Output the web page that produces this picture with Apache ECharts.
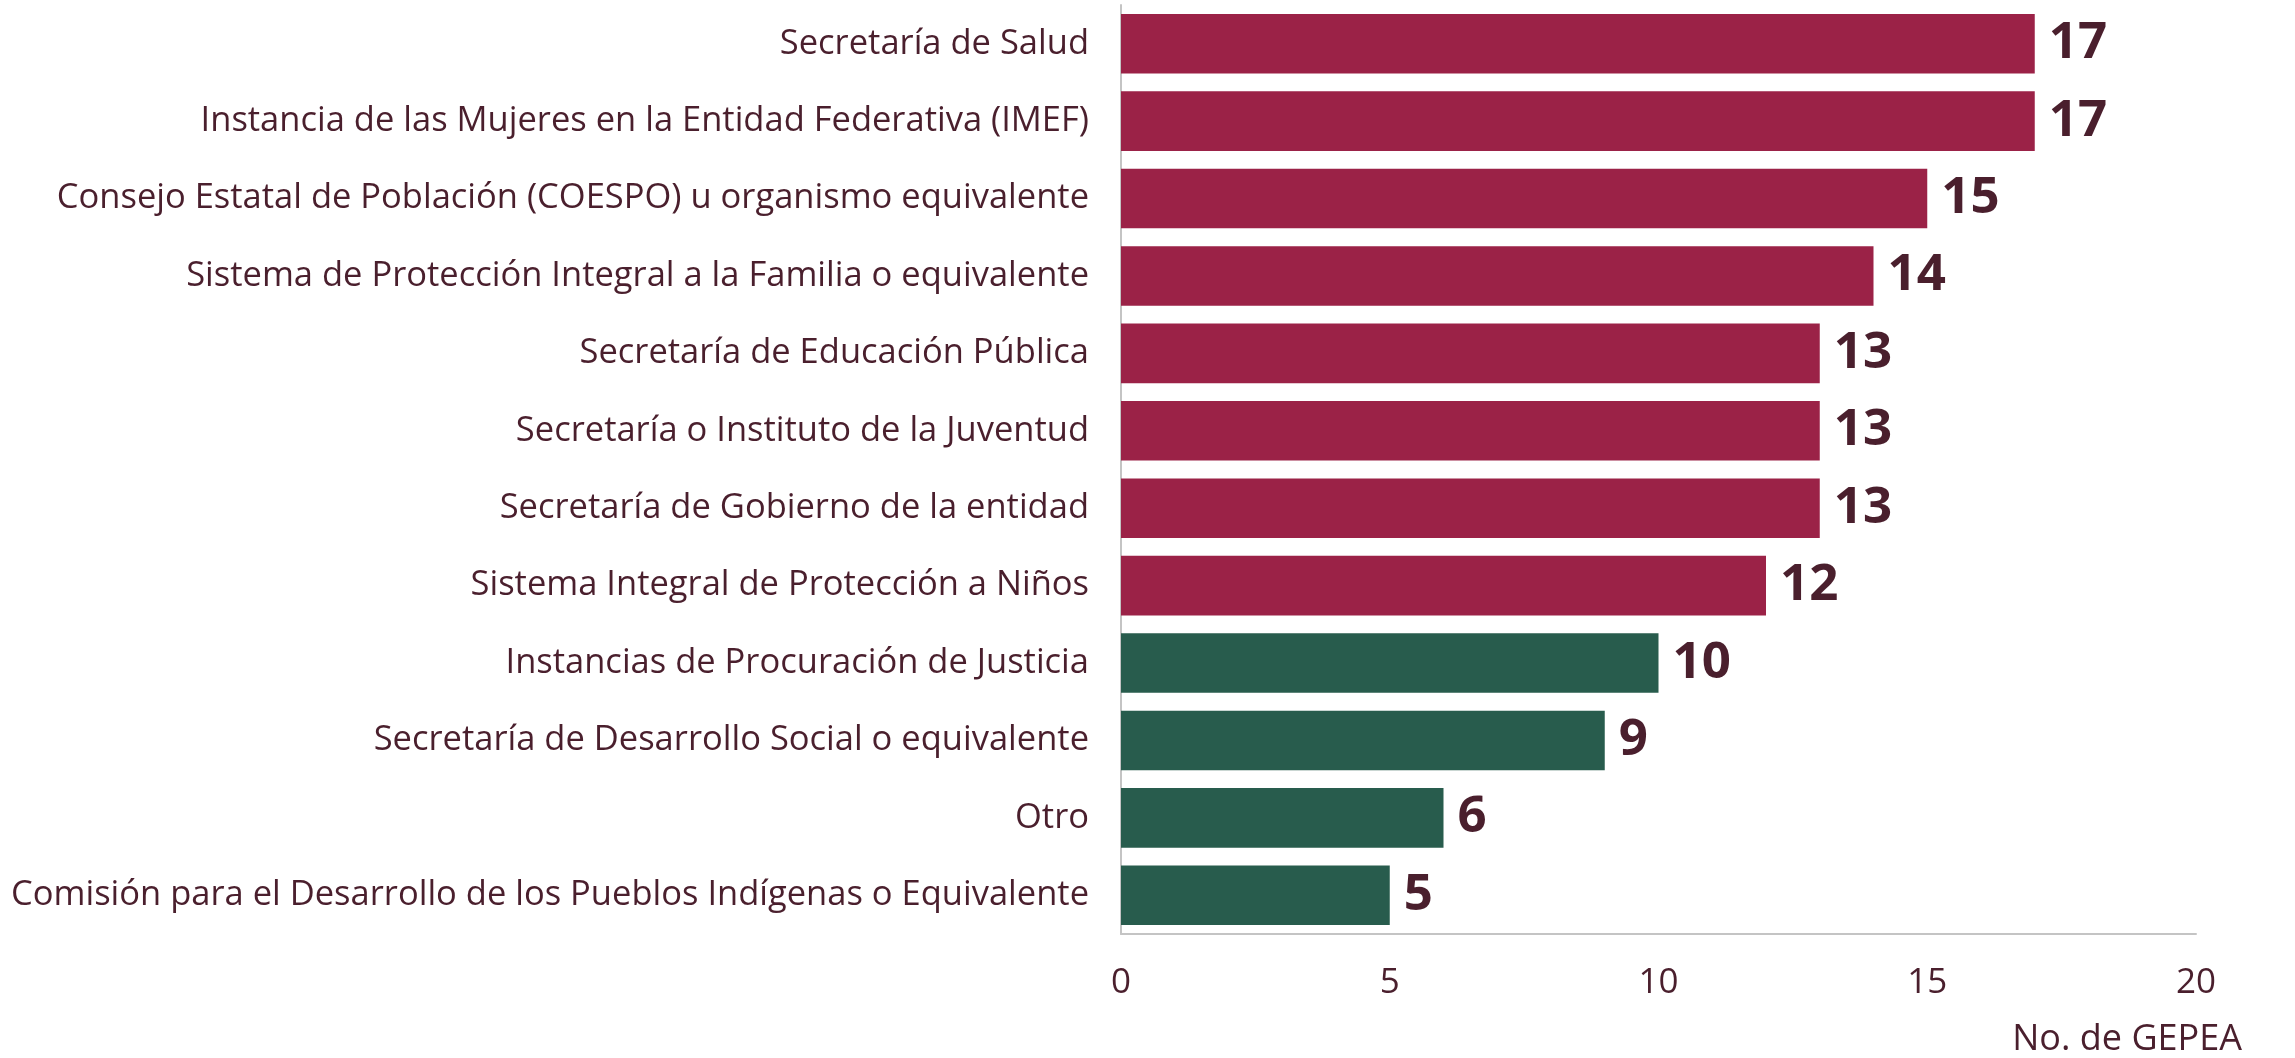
<!DOCTYPE html>
<html>
<head>
<meta charset="utf-8">
<script src="https://cdn.jsdelivr.net/npm/echarts@6/dist/echarts.min.js"></script>
<style>
  html, body { margin: 0; padding: 0; background: #ffffff; }
  #chart { width: 2295px; height: 1058px; }
</style>
</head>
<body>
<div id="chart"></div>
<script>
// instancias, de arriba hacia abajo
const categorias = [
  'Secretaría de Salud',
  'Instancia de las Mujeres en la Entidad Federativa (IMEF)',
  'Consejo Estatal de Población (COESPO) u organismo equivalente',
  'Sistema de Protección Integral a la Familia o equivalente',
  'Secretaría de Educación Pública',
  'Secretaría o Instituto de la Juventud',
  'Secretaría de Gobierno de la entidad',
  'Sistema Integral de Protección a Niños',
  'Instancias de Procuración de Justicia',
  'Secretaría de Desarrollo Social o equivalente',
  'Otro',
  'Comisión para el Desarrollo de los Pueblos Indígenas o Equivalente'
]
const valores = [17, 17, 15, 14, 13, 13, 13, 12, 10, 9, 6, 5]
// primeras 8 en guinda, el resto en verde
const grupo = ['g', 'g', 'g', 'g', 'g', 'g', 'g', 'g', 'v', 'v', 'v', 'v']
const ticksX = [0, 5, 10, 15, 20]

const colores = { g: '#9B2247', v: '#285C4D' }
const textoColor = '#4A1F2D'
const fuente = '"Open Sans", "DejaVu Sans", sans-serif'

const chart = echarts.init(document.getElementById('chart'))
chart.setOption({
  backgroundColor: '#ffffff',
  animation: false,
  grid: { left: 1121, right: 99, top: 5, bottom: 121, containLabel: false },
  xAxis: {
    type: 'value',
    min: ticksX[0],
    max: ticksX[ticksX.length - 1],
    interval: 5,
    name: 'No. de GEPEA',
    nameLocation: 'end',
    nameGap: 46,
    nameTextStyle: {
      color: textoColor,
      fontFamily: fuente,
      fontSize: 36,
      align: 'right',
      verticalAlign: 'top',
      padding: [88, 0, 0, 0]
    },
    axisLine: { show: true, lineStyle: { color: '#C4C4C4', width: 2 } },
    axisTick: { show: false },
    splitLine: { show: false },
    axisLabel: {
      color: textoColor,
      fontFamily: fuente,
      fontSize: 35,
      margin: 32
    }
  },
  yAxis: {
    type: 'category',
    inverse: true,
    data: categorias,
    axisLine: { show: true, lineStyle: { color: '#C4C4C4', width: 2 } },
    axisTick: { show: false },
    axisLabel: {
      color: textoColor,
      fontFamily: fuente,
      fontSize: 34.5,
      margin: 32
    }
  },
  series: [
    {
      type: 'bar',
      barCategoryGap: '23%',
      data: valores.map((v, i) => ({
        value: v,
        itemStyle: { color: colores[grupo[i]] }
      })),
      label: {
        show: true,
        position: 'right',
        distance: 14,
        color: textoColor,
        fontFamily: fuente,
        fontWeight: 'bold',
        fontSize: 51
      }
    }
  ]
})
</script>
</body>
</html>
